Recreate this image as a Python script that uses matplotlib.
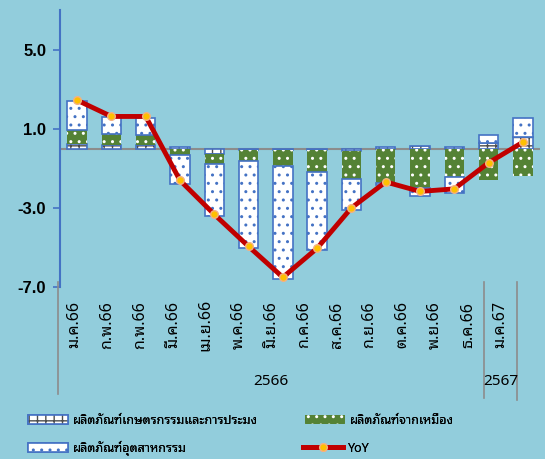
import matplotlib
matplotlib.use("Agg")
import numpy as np
import matplotlib.pyplot as plt
from matplotlib import font_manager as fm
from matplotlib.patches import Patch
from matplotlib.lines import Line2D

# data (percent contribution / YoY)
months = ["ม.ค.66", "ก.พ.66", "ก.พ.66", "มี.ค.66", "เม.ย.66", "พ.ค.66", "มิ.ย.66",
          "ก.ค.66", "ส.ค.66", "ก.ย.66", "ต.ค.66", "พ.ย.66", "ธ.ค.66", "ม.ค.67"]
years = ["2566", "2567"]
year_spans = [13, 1]
agri = [0.25, 0.18, 0.18, 0.10, -0.28, -0.10, -0.10, -0.10, -0.13, 0.10, 0.15, 0.10, 0.30, 0.60]
mining = [0.68, 0.55, 0.52, -0.32, -0.50, -0.54, -0.79, -1.08, -1.40, -1.74, -2.02, -1.46, -1.57, -1.40]
manu = [1.45, 0.84, 0.85, -1.46, -2.63, -4.38, -5.69, -3.93, -1.56, -0.08, -0.38, -0.78, 0.40, 0.95]
yoy = [2.44, 1.62, 1.62, -1.61, -3.33, -4.95, -6.51, -5.04, -3.00, -1.69, -2.17, -2.04, -0.72, 0.32]
labels = ["ผลิตภัณฑ์เกษตรกรรมและการประมง", "ผลิตภัณฑ์จากเหมือง", "ผลิตภัณฑ์อุตสาหกรรม", "YoY"]

bg = "#92CDDC"
blue = "#4472C4"
green = "#548235"
red = "#C00000"

names = set(fm.fontManager.get_font_names())
thai = next((n for n in ["Noto Sans Thai Looped", "Noto Sans Thai", "Sarabun", "Tahoma",
                         "Loma", "Garuda", "Bai Jamjuree"] if n in names), "DejaVu Sans")
plt.rcParams["font.family"] = [thai, "DejaVu Sans"]
plt.rcParams["hatch.linewidth"] = 1.0

W, H = 545, 459
fig = plt.figure(figsize=(W / 100, H / 100), dpi=100, facecolor=bg)


def px(x0, y0, x1, y1):
    return [x0 / W, 1 - y1 / H, (x1 - x0) / W, (y1 - y0) / H]


ax = fig.add_axes(px(60, 10, 540, 287))
ax.set_facecolor("none")
x = np.arange(len(months))
width = 0.57

ax.axhline(0, color="#8C8C8C", lw=1.5, zorder=1)

agri_fill = dict(facecolor="white", edgecolor="#4D4D4D", hatch="++", linewidth=0)
agri_edge = dict(fill=False, edgecolor=blue, linewidth=1.2)
mining_style = dict(facecolor=green, edgecolor="white", hatch="..", linewidth=0)
manu_style = dict(facecolor="white", edgecolor=blue, hatch="..", linewidth=1.2)

pos_base = np.zeros(len(x))
neg_base = np.zeros(len(x))
for vals, styles in [(agri, [agri_fill, agri_edge]), (mining, [mining_style]), (manu, [manu_style])]:
    v = np.array(vals)
    base = np.where(v >= 0, pos_base, neg_base)
    for st in styles:
        ax.bar(x, v, width, bottom=base, zorder=2, **st)
    pos_base += np.clip(v, 0, None)
    neg_base += np.clip(v, None, 0)

ax.plot(x, yoy, color=red, lw=3.5, marker="o", ms=5.5, mfc="#FFC000", mec="#F4B183",
        mew=1, zorder=3, solid_joinstyle="round")

ax.set_xlim(-0.5, len(x) - 0.5)
ax.set_ylim(-7, 7)
ax.set_yticks([-7, -3, 1, 5])
ax.set_yticklabels([f"{t:.1f}" for t in [-7, -3, 1, 5]], fontsize=12, fontweight="bold",
                   family="Liberation Sans")
ax.tick_params(axis="y", direction="out", length=5, width=1.2, color=blue, pad=5)
ax.set_xticks([])
for s in ["top", "right", "bottom"]:
    ax.spines[s].set_visible(False)
ax.spines["left"].set_color(blue)
ax.spines["left"].set_linewidth(1.5)

# category / year label area
lax = fig.add_axes(px(58, 287, 517, 400))
lax.set_xlim(-0.5, len(x) - 0.5)
lax.set_ylim(0, 1)
lax.axis("off")
edges = np.cumsum([0] + year_spans) - 0.5
for e, y0 in zip(edges, [0.05, 0.02, 0.0]):
    lax.plot([e, e], [y0, 1.04], color="#8C8C8C", lw=1.2, clip_on=False)
for i, m in enumerate(months):
    lax.text(i, 0.665, m, rotation=90, ha="center", va="center", fontsize=11.5)
for (a, b), yr in zip(zip(edges[:-1], edges[1:]), years):
    lax.text((a + b) / 2, 0.16, yr, ha="center", va="center", fontsize=11)

# legend entries placed one by one
agri_h = (Patch(**agri_fill), Patch(**agri_edge))
entries = [(agri_h, labels[0], 28, 420), (Patch(**mining_style), labels[1], 305, 420),
           (Patch(**manu_style), labels[2], 28, 448),
           (Line2D([], [], color=red, lw=3.5, marker="o", ms=5.5, mfc="#FFC000", mec="#F4B183"),
            labels[3], 303, 448)]
for h, lab, lx, ly in entries:
    leg = fig.legend([h], [lab], loc="center left", bbox_to_anchor=(lx / W, 1 - ly / H),
                     frameon=False, fontsize=9, handlelength=3.2, handleheight=0.75,
                     handletextpad=0.4, borderpad=0, borderaxespad=0, numpoints=1)
    fig.add_artist(leg)

fig.savefig("out.png", dpi=100, facecolor=bg)
